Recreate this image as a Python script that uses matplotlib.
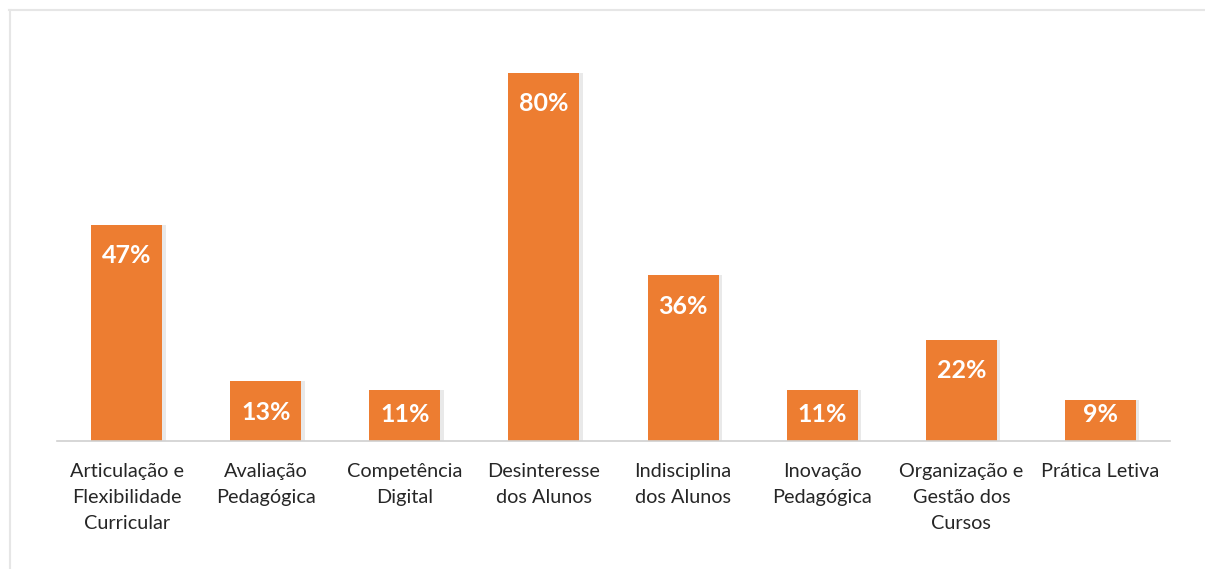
import matplotlib
matplotlib.use("Agg")
import matplotlib.pyplot as plt
from matplotlib.lines import Line2D

categories = ["Articulação e\nFlexibilidade\nCurricular", "Avaliação\nPedagógica",
              "Competência\nDigital", "Desinteresse\ndos Alunos", "Indisciplina\ndos Alunos",
              "Inovação\nPedagógica", "Organização e\nGestão dos\nCursos", "Prática Letiva"]
values = [47, 13, 11, 80, 36, 11, 22, 9]
labels = ["47%", "13%", "11%", "80%", "36%", "11%", "22%", "9%"]

W, H = 1205, 569
fig = plt.figure(figsize=(W/100, H/100), dpi=100)
ax = fig.add_axes([57/W, 1-441/H, (1170-57)/W, (441-73)/H])
x = list(range(len(values)))
ax.bar([i + 0.025 for i in x], values, width=0.51, color="#b8b8b8", alpha=0.3, zorder=1)
bars = ax.bar(x, values, width=0.51, color="#ED7D31", zorder=2)
ax.set_xlim(-0.5, len(values) - 0.5)
ax.set_ylim(0, 80)
for s in ["top", "right", "left"]:
    ax.spines[s].set_visible(False)
ax.spines["bottom"].set_color("#d0d0d0")
ax.spines["bottom"].set_linewidth(1.2)
ax.set_yticks([])
ax.set_xticks(x)
ax.set_xticklabels(categories, fontsize=14.3, family="Lato", color="#262626", linespacing=1.62, va="top")
ax.tick_params(axis="x", length=0, pad=16)
for i, (v, lab) in enumerate(zip(values, labels)):
    ypos = max(v - 31/4.6, 27/4.6)
    ax.text(i, ypos, lab, ha="center", va="center", color="white", fontsize=18,
            fontweight="bold", family="Lato", zorder=3)

fig.add_artist(Line2D([9/W, 1], [1-9.5/H, 1-9.5/H], color="#e6e6e6", lw=1.5))
fig.add_artist(Line2D([9.5/W, 9.5/W], [0, 1-9.5/H], color="#e6e6e6", lw=1.5))
fig.savefig("out.png", dpi=100)
